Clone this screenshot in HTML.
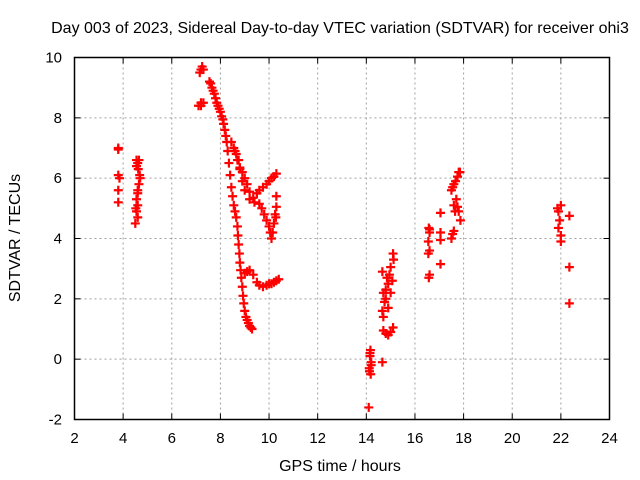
<!DOCTYPE html>
<html><head><meta charset="utf-8"><style>
html,body{margin:0;padding:0;background:#fff;}
svg{display:block;font-family:"Liberation Sans",sans-serif;}
</style></head><body>
<svg id="chart" width="640" height="480" viewBox="0 0 640 480">
<rect x="0" y="0" width="640" height="480" fill="#fff"/>
<text x="340" y="33" text-anchor="middle" font-size="16">Day 003 of 2023, Sidereal Day-to-day VTEC variation (SDTVAR) for receiver ohi3</text>
<text x="340" y="471" text-anchor="middle" font-size="16">GPS time / hours</text>
<text transform="translate(20,238) rotate(-90)" text-anchor="middle" font-size="16">SDTVAR / TECUs</text>
<g id="grid"></g>
<g id="axes"></g>
<g id="marks"></g>
<rect x="74.5" y="57.5" width="535" height="362" fill="none" stroke="#000" stroke-width="1.5"/>
</svg>
<script>
const xTicks = [2,4,6,8,10,12,14,16,18,20,22,24];
const yTicks = [-2,0,2,4,6,8,10];
const hours = [3.8,3.8,3.8,3.85,3.8,3.8,
 4.55,4.6,4.65,4.55,4.7,4.65,4.6,4.55,4.6,4.55,4.5,4.6,4.6,4.62,4.68,4.52,
 7.2,7.25,7.3,7.15,7.2,7.1,7.3,7.2,
 7.55,7.6,7.65,7.7,7.75,7.8,7.85,7.9,7.95,8.0,8.05,8.1,8.13,8.18,8.22,8.26,8.3,
 8.35,8.4,8.45,8.5,8.55,8.6,8.65,8.7,8.72,8.75,8.78,8.8,8.83,8.86,8.9,8.93,8.96,9.0,9.05,9.1,9.15,9.2,9.25,9.3,
 8.45,8.55,8.65,8.75,8.8,8.9,9.0,9.1,9.2,9.35,9.5,9.6,9.75,9.9,10.0,10.1,10.2,10.3,
 8.6,8.7,8.8,8.9,9.0,9.2,9.4,9.6,9.7,9.8,9.9,10.0,10.05,10.1,10.15,10.2,10.25,10.3,10.3,10.28,
 9.0,9.1,9.2,9.35,9.5,9.6,9.75,9.9,10.0,10.1,10.2,10.3,10.4,
 14.17,14.15,14.2,14.12,14.18,14.15,14.2,14.13,14.1,14.66,
 14.7,14.8,14.9,15.0,15.1,14.66,14.7,14.7,14.75,14.8,14.85,14.66,14.9,14.95,15.0,15.07,15.0,15.1,15.12,14.8,14.9,
 16.57,16.6,16.55,16.6,16.55,16.6,16.57,16.6,
 17.05,17.05,17.05,17.05,
 17.5,17.55,17.6,17.67,17.75,17.8,17.85,17.6,17.75,17.7,17.8,17.87,17.6,17.5,17.55,17.65,
 21.86,21.9,22.0,21.95,21.9,22.0,22.0,22.35,22.35,22.35];
const sdtvar = [7.0,6.95,6.1,6.0,5.6,5.2,
 6.6,6.5,6.6,6.4,6.0,5.8,5.6,5.3,5.1,4.9,4.5,4.7,5.5,6.3,6.1,5.0,
 9.6,9.7,9.6,9.5,8.5,8.4,8.5,8.4,
 9.2,9.14,9.0,8.9,8.8,8.65,8.5,8.4,8.3,8.2,8.05,7.95,7.8,7.6,7.4,7.2,6.9,
 6.5,6.1,5.7,5.4,5.1,4.9,4.7,4.4,4.1,3.8,3.5,3.2,2.95,2.7,2.4,2.1,1.85,1.6,1.4,1.3,1.2,1.1,1.05,1.0,
 7.2,7.0,6.8,6.6,6.35,6.2,6.0,5.8,5.55,5.35,5.5,5.6,5.7,5.8,5.9,6.0,6.05,6.15,
 6.9,6.6,6.3,5.9,5.6,5.3,5.2,5.15,5.0,4.8,4.6,4.4,4.2,4.0,4.2,4.5,4.8,5.05,5.4,4.7,
 2.85,2.9,2.95,2.8,2.55,2.45,2.4,2.45,2.5,2.5,2.55,2.6,2.65,
 0.3,0.1,-0.1,-0.3,-0.5,0.2,-0.2,-0.4,-1.6,-0.1,
 0.95,0.85,0.8,0.9,1.05,1.6,2.2,1.4,1.9,2.3,2.7,2.9,2.5,2.8,3.05,2.6,2.2,3.5,3.3,2.0,1.7,
 4.35,4.2,3.9,3.6,3.5,4.3,2.7,2.8,
 4.85,4.2,3.95,3.15,
 5.6,5.7,5.8,5.9,6.05,6.2,6.2,5.1,5.05,5.3,4.9,4.6,4.25,4.0,4.15,4.9,
 5.0,4.9,5.1,4.6,4.35,4.1,3.9,4.75,3.05,1.85];

const L=74.5,R=609.5,T=57.5,B=419.5;
function xs(v){return L+(v-2)/(24-2)*(R-L);}
function ys(v){return B-(v+2)/(10+2)*(B-T);}
const NS="http://www.w3.org/2000/svg";
const grid=document.getElementById('grid'),axes=document.getElementById('axes'),marks=document.getElementById('marks');
function mk(tag,attrs,parent){const e=document.createElementNS(NS,tag);for(const k in attrs)e.setAttribute(k,attrs[k]);parent.appendChild(e);return e;}
xTicks.forEach(t=>{
  const x=xs(t);
  if(t>2&&t<24){const g=mk('line',{x1:x,x2:x,y1:T,y2:B,stroke:'#a0a0a0','stroke-dasharray':'2,3'},grid);
  
  }
  const a=mk('line',{x1:x,x2:x,y1:B,y2:B-6,stroke:'#000'},axes);
  
  
  const b=mk('line',{x1:x,x2:x,y1:T,y2:T+6,stroke:'#000'},axes);
  
  
  const tx=mk('text',{x:x,y:443,'text-anchor':'middle','font-size':'15'},axes);tx.textContent=t;
  
  
});
yTicks.forEach(t=>{
  const y=ys(t);
  if(t>-2&&t<10){const g=mk('line',{x1:L,x2:R,y1:y,y2:y,stroke:'#a0a0a0','stroke-dasharray':'2,3'},grid);
  
  }
  const a=mk('line',{x1:L,x2:L+6,y1:y,y2:y,stroke:'#000'},axes);
  
  
  const b=mk('line',{x1:R,x2:R-6,y1:y,y2:y,stroke:'#000'},axes);
  
  
  const tx=mk('text',{x:62,y:y+5,'text-anchor':'end','font-size':'15'},axes);tx.textContent=t;
  
  
});
hours.forEach((h,i)=>{
  const x=xs(h),y=ys(sdtvar[i]);
  const p=mk('path',{d:`M${x-4.5},${y}H${x+4.5}M${x},${y-4.5}V${y+4.5}`,stroke:'#ff0000','stroke-width':'2.2',fill:'none'},marks);
  
  
});
</script>
</body></html>
